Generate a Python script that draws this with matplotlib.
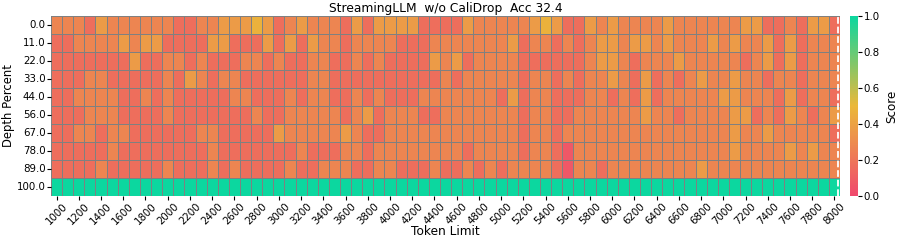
import numpy as np
import pandas as pd
import matplotlib
matplotlib.use("Agg")
import matplotlib.pyplot as plt
import seaborn as sns
from matplotlib.colors import LinearSegmentedColormap

# token limits (columns) and depth percents (rows)
token_limits = list(range(1000, 8001, 100))
depth_percents = [0.0, 11.0, 22.0, 33.0, 44.0, 56.0, 67.0, 78.0, 89.0, 100.0]

# scores, one list per depth row
row_00 = [.27, .27, .27, .17, .37, .27, .27, .27, .27, .27, .27, .17,
          .17, .27, .27, .37, .37, .37, .47, .37, .17, .27, .37, .27,
          .27, .27, .17, .37, .17, .37, .37, .37, .37, .17, .17, .17,
          .17, .37, .27, .27, .27, .27, .27, .37, .47, .37, .17, .17,
          .37, .27, .37, .27, .27, .27, .27, .37, .27, .27, .27, .27,
          .27, .27, .37, .37, .17, .17, .27, .17, .37, .37, .17]
row_11 = [.17, .17, .27, .27, .27, .27, .37, .27, .37, .37, .17, .17,
          .17, .17, .37, .37, .17, .17, .17, .37, .17, .37, .17, .37,
          .27, .27, .17, .27, .27, .27, .27, .17, .17, .17, .27, .27,
          .27, .27, .27, .27, .27, .37, .17, .27, .27, .17, .27, .17,
          .27, .37, .37, .27, .37, .37, .27, .37, .27, .27, .27, .37,
          .27, .37, .27, .27, .37, .17, .37, .17, .27, .27, .27]
row_22 = [.17, .17, .17, .17, .17, .17, .17, .37, .17, .17, .27, .27,
          .17, .27, .17, .17, .17, .27, .27, .17, .27, .17, .17, .27,
          .27, .17, .17, .27, .17, .27, .17, .17, .17, .17, .37, .27,
          .37, .17, .27, .27, .27, .27, .17, .17, .17, .17, .17, .17,
          .27, .37, .37, .27, .17, .27, .27, .27, .37, .27, .27, .27,
          .27, .27, .17, .27, .37, .17, .37, .17, .27, .27, .27]
row_33 = [.17, .17, .17, .27, .27, .17, .17, .17, .17, .17, .27, .17,
          .37, .27, .17, .27, .27, .17, .17, .17, .17, .17, .17, .27,
          .27, .17, .17, .17, .17, .17, .17, .17, .17, .17, .17, .27,
          .17, .27, .27, .27, .27, .27, .17, .27, .27, .17, .27, .17,
          .27, .27, .37, .27, .17, .37, .17, .27, .17, .27, .37, .27,
          .27, .37, .27, .27, .17, .27, .27, .17, .27, .27, .27]
row_44 = [.17, .17, .27, .27, .27, .27, .17, .17, .27, .17, .27, .17,
          .17, .17, .17, .17, .27, .27, .17, .17, .17, .27, .17, .27,
          .27, .17, .17, .27, .17, .27, .17, .17, .17, .27, .27, .27,
          .27, .27, .27, .27, .17, .37, .17, .27, .27, .17, .17, .17,
          .27, .27, .17, .27, .17, .37, .17, .27, .27, .27, .27, .27,
          .37, .37, .27, .27, .27, .17, .37, .17, .27, .27, .17]
row_56 = [.17, .17, .17, .27, .27, .27, .17, .17, .17, .17, .27, .17,
          .17, .17, .17, .17, .17, .17, .27, .17, .17, .27, .27, .27,
          .27, .27, .17, .27, .37, .17, .27, .27, .27, .17, .17, .27,
          .27, .27, .27, .27, .27, .27, .17, .27, .27, .17, .17, .27,
          .27, .27, .27, .27, .27, .37, .27, .27, .17, .27, .27, .27,
          .27, .37, .37, .17, .27, .17, .37, .27, .17, .27, .37]
row_67 = [.17, .17, .27, .27, .17, .27, .27, .17, .17, .17, .17, .17,
          .17, .27, .27, .17, .17, .17, .17, .17, .37, .27, .27, .27,
          .27, .27, .37, .27, .17, .17, .27, .27, .27, .27, .27, .27,
          .27, .27, .27, .27, .27, .27, .17, .27, .27, .17, .27, .27,
          .27, .27, .27, .27, .27, .27, .27, .27, .27, .27, .27, .27,
          .27, .37, .27, .27, .37, .27, .27, .27, .27, .27, .17]
row_78 = [.17, .17, .17, .17, .17, .27, .17, .17, .17, .17, .17, .17,
          .17, .17, .27, .17, .17, .17, .17, .17, .17, .17, .27, .17,
          .17, .17, .27, .27, .17, .27, .27, .27, .27, .27, .27, .27,
          .27, .17, .27, .27, .27, .27, .17, .27, .27, .17, .07, .27,
          .27, .27, .27, .27, .27, .27, .27, .27, .27, .27, .27, .27,
          .27, .37, .27, .27, .27, .27, .37, .27, .37, .27, .27]
row_89 = [.17, .17, .17, .17, .27, .17, .17, .17, .17, .17, .27, .17,
          .17, .17, .27, .17, .27, .17, .17, .17, .17, .27, .17, .17,
          .27, .27, .27, .17, .17, .27, .27, .17, .17, .17, .27, .17,
          .17, .27, .17, .27, .17, .27, .27, .27, .27, .17, .07, .27,
          .27, .17, .27, .27, .27, .27, .27, .27, .27, .27, .37, .27,
          .27, .27, .27, .27, .27, .27, .27, .27, .27, .27, .27]
row_100 = [1.0] * len(token_limits)

scores = np.array([row_00, row_11, row_22, row_33, row_44,
                   row_56, row_67, row_78, row_89, row_100])
df = pd.DataFrame(scores, index=depth_percents, columns=token_limits)

cmap = LinearSegmentedColormap.from_list("custom_cmap", ["#F0496E", "#EBB839", "#0CD79F"])

fig = plt.figure(figsize=(8.97, 2.41), dpi=100)
ax = fig.add_axes([0.0569, 0.1867, 0.8796, 0.7469])
cax = fig.add_axes([0.9476, 0.1867, 0.0089, 0.7469])

sns.heatmap(df, ax=ax, cbar_ax=cax, cmap=cmap, vmin=0, vmax=1,
            linewidths=0.5, linecolor="grey", xticklabels=2,
            cbar_kws={"label": "Score"})

# context boundary marker
ax.axvline(x=70.8, color="white", linestyle="--", linewidth=1.3)

ax.set_title("StreamingLLM  w/o CaliDrop  Acc 32.4", fontsize=8.8, pad=3)
ax.set_xlabel("Token Limit", fontsize=8.7, labelpad=-1)
ax.set_ylabel("Depth Percent", fontsize=8.4, labelpad=1)
ax.tick_params(axis="x", labelsize=7.4, rotation=45, length=3, pad=1)
ax.tick_params(axis="y", labelsize=7.4, rotation=0, length=3, pad=1)

cax.tick_params(labelsize=7.4, length=3, pad=1)
cax.yaxis.label.set_size(8.6)

plt.savefig("out.png", dpi=100)
